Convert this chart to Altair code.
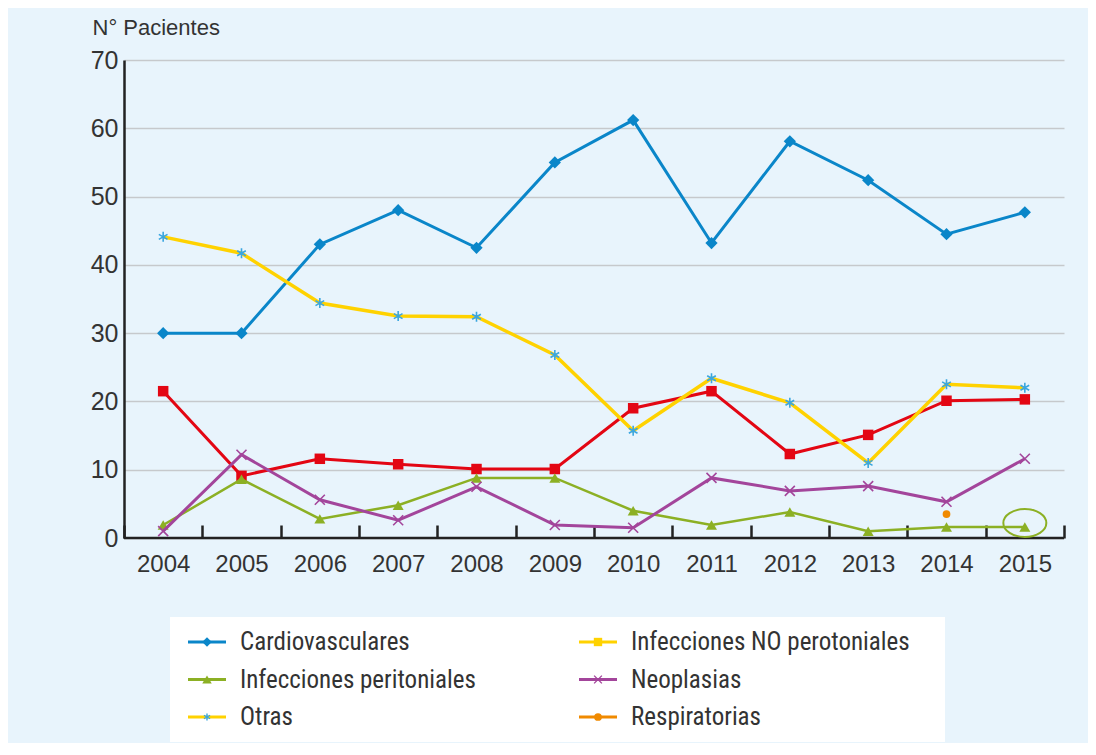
import altair as alt
import pandas as pd

# ---------------- data ----------------
years = ["2004", "2005", "2006", "2007", "2008", "2009",
         "2010", "2011", "2012", "2013", "2014", "2015"]

cardiovasculares = [30, 30, 43, 48, 42.5, 55, 61.2, 43.2, 58.1, 52.4, 44.5, 47.7]
infecciones_no_perotoniales = [21.5, 9.1, 11.6, 10.8, 10.1, 10.1, 19.0, 21.5, 12.3, 15.1, 20.1, 20.3]
infecciones_peritoniales = [1.9, 8.6, 2.8, 4.8, 8.8, 8.8, 4.0, 1.9, 3.8, 1.0, 1.6, 1.6]
neoplasias = [1.0, 12.2, 5.6, 2.6, 7.5, 1.9, 1.5, 8.8, 6.9, 7.6, 5.3, 11.6]
otras = [44.1, 41.7, 34.4, 32.5, 32.4, 26.8, 15.7, 23.4, 19.8, 11.0, 22.5, 22.0]
respiratorias_years = ["2014"]
respiratorias = [3.5]

highlight_years = ["2015"]
highlight_values = [2.2]

y_ticks = [0, 10, 20, 30, 40, 50, 60, 70]

legend_labels = ["Cardiovasculares", "Infecciones NO perotoniales",
                 "Infecciones peritoniales", "Neoplasias",
                 "Otras", "Respiratorias"]

# ---------------- styles ----------------
BG = "#e8f4fc"
TXT = "#333333"
BLUE = "#0a86c9"
YELLOW = "#ffd200"
RED = "#e30613"
GREEN = "#8cb024"
PURPLE = "#a3459b"
ORANGE = "#f08a00"
STAR_BLUE = "#3aa6e0"

XSHAPE = "M-1,-1L1,1M-1,1L1,-1"
STAR = "M0,-1L0,1M-0.87,-0.5L0.87,0.5M-0.87,0.5L0.87,-0.5"
HLINE = "M-1,0L1,0"
ELLIPSE = ("M1,0 C1,0.359 0.552,0.65 0,0.65 C-0.552,0.65 -1,0.359 -1,0 "
           "C-1,-0.359 -0.552,-0.65 0,-0.65 C0.552,-0.65 1,-0.359 1,0 Z")

series = [
    # name, years, values, line color, line width, marker color, shape, filled, size, legend line, legend marker, legend size
    ("Cardiovasculares", years, cardiovasculares, BLUE, 3, BLUE, "diamond", True, 150, BLUE, BLUE, 90),
    ("Infecciones NO perotoniales", years, infecciones_no_perotoniales, RED, 3, RED, "square", True, 110, YELLOW, YELLOW, 70),
    ("Infecciones peritoniales", years, infecciones_peritoniales, GREEN, 2.5, GREEN, "triangle-up", True, 120, GREEN, GREEN, 90),
    ("Neoplasias", years, neoplasias, PURPLE, 3, PURPLE, XSHAPE, False, 100, PURPLE, PURPLE, 60),
    ("Otras", years, otras, YELLOW, 3.5, STAR_BLUE, STAR, False, 100, YELLOW, STAR_BLUE, 50),
    ("Respiratorias", respiratorias_years, respiratorias, ORANGE, 3, ORANGE, "circle", True, 60, ORANGE, ORANGE, 60),
]

FONT = "Liberation Sans"
LEG_FONT = "Liberation Sans Narrow, Roboto Condensed, Liberation Sans"

x_enc = alt.X("year:O", bandPosition=0.5,
              scale=alt.Scale(type="band", domain=years, paddingInner=0, paddingOuter=0),
              axis=alt.Axis(title=None, labelAngle=0, tickBand="extent", offset=-13,
                            tickSize=13, tickWidth=2.5, tickColor="#222222",
                            domain=False, grid=False, labelPadding=14,
                            labelFontSize=24, labelColor=TXT, labelFont=FONT))
y_enc = alt.Y("value:Q",
              scale=alt.Scale(domain=[0, 70], nice=False, zero=True),
              axis=alt.Axis(values=y_ticks, grid=True, gridColor="#c6c9cc", gridWidth=1.5,
                            domain=True, domainColor="#222222", domainWidth=2.5,
                            ticks=False, labelPadding=6, labelFontSize=25,
                            labelColor=TXT, labelFont=FONT,
                            title="N° Pacientes", titleAngle=0, titleX=-32, titleY=-26,
                            titleAlign="left", titleBaseline="alphabetic",
                            titleFontSize=22, titleFontWeight="normal",
                            titleColor=TXT, titleFont=FONT))

main_layers = []
baseline = alt.Chart(pd.DataFrame({"value": [0]})).mark_rule(
    color="#222222", strokeWidth=2.5).encode(y=alt.datum(0, type="quantitative"))
main_layers.append(baseline)

for name, yrs, vals, lc, lw, mc, shape, filled, size, _, _, _ in series:
    df = pd.DataFrame({"year": yrs, "value": vals})
    base = alt.Chart(df).encode(x=x_enc, y=y_enc)
    if len(vals) > 1:
        main_layers.append(base.mark_line(color=lc, strokeWidth=lw))
    if filled:
        pts = base.mark_point(shape=shape, filled=True, size=size, color=mc, opacity=1)
    else:
        pts = base.mark_point(shape=shape, filled=False, size=size, color=mc,
                              strokeWidth=1.6, opacity=1)
    main_layers.append(pts)

hl = alt.Chart(pd.DataFrame({"year": highlight_years, "value": highlight_values})).mark_point(
    shape=ELLIPSE, filled=False, size=1849, color=GREEN, strokeWidth=2, opacity=1
).encode(x=x_enc, y=y_enc)
main_layers.append(hl)

main = alt.layer(*main_layers)

# ---------------- legend ----------------
leg_df = pd.DataFrame({
    "label": legend_labels,
    "col": [i % 2 for i in range(len(legend_labels))],
    "row": [i // 2 for i in range(len(legend_labels))],
})
lx = alt.X("col:Q", scale=alt.Scale(domain=[0, 1], range=[83, 474], nice=False, zero=False), axis=None)
ly = alt.Y("row:Q", scale=alt.Scale(domain=[0, 2], range=[582, 657], nice=False, zero=False), axis=None)

box = alt.Chart(pd.DataFrame({"a": [0]})).mark_rect(color="white").encode(
    x=alt.value(46), x2=alt.value(821), y=alt.value(557), y2=alt.value(682))

legend_layers = [box]
leg_base = alt.Chart(leg_df).encode(x=lx, y=ly)
for name, yrs, vals, lc, lw, mc, shape, filled, size, llc, lmc, lsize in series:
    item = leg_base.transform_filter(alt.datum.label == name)
    legend_layers.append(item.mark_point(shape=HLINE, filled=False, size=1444,
                                         color=llc, strokeWidth=3, opacity=1))
    if filled:
        legend_layers.append(item.mark_point(shape=shape, filled=True, size=lsize,
                                             color=lmc, opacity=1))
    else:
        legend_layers.append(item.mark_point(shape=shape, filled=False, size=lsize,
                                             color=lmc, strokeWidth=1.4, opacity=1))
legend_layers.append(leg_base.mark_text(align="left", baseline="middle", dx=33,
                                        fontSize=25, color=TXT, font=LEG_FONT).encode(text="label:N"))
legend = alt.layer(*legend_layers)

chart = alt.layer(main, legend).resolve_scale(
    x="independent", y="independent"
).properties(
    width=940, height=478,
    autosize=alt.AutoSizeParams(type="none"),
    padding={"left": 116, "top": 52, "right": 24, "bottom": 205},
    background=BG,
).configure_view(strokeWidth=0, fill=BG)

chart.save("out.html", embed_options={"renderer": "svg", "actions": False})
